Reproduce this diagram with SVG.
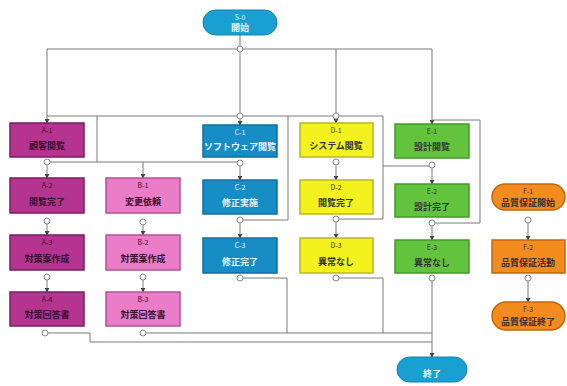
<svg xmlns="http://www.w3.org/2000/svg" width="567" height="386" viewBox="0 0 567 386">
<defs>
<marker id="ar" viewBox="0 0 6 6" refX="5" refY="3" markerWidth="5" markerHeight="5" orient="auto"><path d="M0,0 L6,3 L0,6 z" fill="#444"/></marker>
<style>
.bg{fill:#fff}
.ln{fill:none;stroke:#7a7a7a;stroke-width:1}
.j{fill:#fff;stroke:#888;stroke-width:1}
.pa{fill:#b5348f;stroke:#7b1c62;stroke-width:1.5}
.pb{fill:#ea7cc8;stroke:#b2529a;stroke-width:1.5}
.bl{fill:#178dc6;stroke:#0f6f9e;stroke-width:1.5}
.ye{fill:#f4f21e;stroke:#b9b624;stroke-width:1.5}
.gr{fill:#63c33c;stroke:#3f9a28;stroke-width:1.5}
.or{fill:#f38b1f;stroke:#c2650f;stroke-width:1.5}
.te{fill:#1a9fd2;stroke:#1483b0;stroke-width:1}
text{font-family:"Noto Sans CJK JP","Noto Sans",sans-serif;text-anchor:middle}
.c{font-size:7px}
.l{font-size:9px;font-weight:bold}
.dk{fill:#3a1030}
.wt{fill:#e8f6ff}
.bk{fill:#333}
</style>
</defs>
<rect class="bg" width="567" height="386"/>
<g id="connectors">
<path class="ln" d="M240,35 V46"/>
<path class="ln" d="M47,49 H432"/>
<path class="ln" d="M47,49 V116"/>
<path class="ln" d="M240,52 V113"/>
<path class="ln" d="M336,49 V113"/>
<path class="ln" d="M432,49 V124" marker-end="url(#ar)"/>
<path class="ln" d="M47,116 H383"/>
<path class="ln" d="M47,116 V123" marker-end="url(#ar)"/>
<path class="ln" d="M240,119 V125" marker-end="url(#ar)"/>
<path class="ln" d="M336,119 V123" marker-end="url(#ar)"/>
<path class="ln" d="M97,116 V162"/>
<path class="ln" d="M50,162 H237"/>
<path class="ln" d="M143,162 V178" marker-end="url(#ar)"/>
<path class="ln" d="M47,165 V178" marker-end="url(#ar)"/>
<path class="ln" d="M47,224 V235" marker-end="url(#ar)"/>
<path class="ln" d="M47,280 V292" marker-end="url(#ar)"/>
<path class="ln" d="M143,225 V235" marker-end="url(#ar)"/>
<path class="ln" d="M143,280 V292" marker-end="url(#ar)"/>
<path class="ln" d="M240,166 V180" marker-end="url(#ar)"/>
<path class="ln" d="M240,223 V238" marker-end="url(#ar)"/>
<path class="ln" d="M243,220 H288 V116"/>
<path class="ln" d="M336,165 V180" marker-end="url(#ar)"/>
<path class="ln" d="M336,222 V238" marker-end="url(#ar)"/>
<path class="ln" d="M339,219 H383 V116"/>
<path class="ln" d="M383,166 H429"/>
<path class="ln" d="M432,168 V184" marker-end="url(#ar)"/>
<path class="ln" d="M432,226 V240" marker-end="url(#ar)"/>
<path class="ln" d="M435,223 H480 V120 H432"/>
<path class="ln" d="M48,333 H90 V342 H432"/>
<path class="ln" d="M146,333 H432"/>
<path class="ln" d="M243,278 H287 V333"/>
<path class="ln" d="M339,278 H383 V333"/>
<path class="ln" d="M432,281 V357" marker-end="url(#ar)"/>
<path class="ln" d="M528,223 V240" marker-end="url(#ar)"/>
<path class="ln" d="M528,281 V302" marker-end="url(#ar)"/>
<circle class="j" cx="240" cy="49" r="3"/>
<circle class="j" cx="240" cy="116" r="3"/>
<circle class="j" cx="336" cy="116" r="3"/>
<circle class="j" cx="47" cy="162" r="3"/>
<circle class="j" cx="240" cy="163" r="3"/>
<circle class="j" cx="336" cy="162" r="3"/>
<circle class="j" cx="432" cy="165" r="3"/>
<circle class="j" cx="47" cy="221" r="3"/>
<circle class="j" cx="143" cy="222" r="3"/>
<circle class="j" cx="240" cy="220" r="3"/>
<circle class="j" cx="336" cy="219" r="3"/>
<circle class="j" cx="432" cy="223" r="3"/>
<circle class="j" cx="47" cy="277" r="3"/>
<circle class="j" cx="143" cy="277" r="3"/>
<circle class="j" cx="240" cy="278" r="3"/>
<circle class="j" cx="336" cy="278" r="3"/>
<circle class="j" cx="432" cy="278" r="3"/>
<circle class="j" cx="45" cy="333" r="3"/>
<circle class="j" cx="143" cy="333" r="3"/>
<circle class="j" cx="528" cy="220" r="3"/>
<circle class="j" cx="528" cy="278" r="3"/>
</g>
<g id="start"><rect class="te" x="203" y="10" width="74" height="25" rx="12.5"/><text class="c wt" x="240" y="20">S-0</text><text class="l wt" x="240" y="31">開始</text></g>
<g id="end"><rect class="te" x="397" y="357" width="70" height="25" rx="12.5"/><text class="l wt" x="432" y="377">終了</text></g>
<g id="A1"><rect class="pa" x="10" y="123" width="74" height="34"/><text class="c dk" x="47" y="133">A-1</text><text class="l dk" x="47" y="149">顧客閲覧</text></g>
<g id="A2"><rect class="pa" x="10" y="178" width="74" height="35"/><text class="c dk" x="47" y="188">A-2</text><text class="l dk" x="47" y="205">閲覧完了</text></g>
<g id="A3"><rect class="pa" x="10" y="235" width="74" height="35"/><text class="c dk" x="47" y="245">A-3</text><text class="l dk" x="47" y="262">対策案作成</text></g>
<g id="A4"><rect class="pa" x="10" y="292" width="74" height="34"/><text class="c dk" x="47" y="302">A-4</text><text class="l dk" x="47" y="318">対策回答書</text></g>
<g id="B1"><rect class="pb" x="106" y="178" width="74" height="35"/><text class="c dk" x="143" y="188">B-1</text><text class="l dk" x="143" y="205">変更依頼</text></g>
<g id="B2"><rect class="pb" x="106" y="235" width="74" height="35"/><text class="c dk" x="143" y="245">B-2</text><text class="l dk" x="143" y="262">対策案作成</text></g>
<g id="B3"><rect class="pb" x="106" y="292" width="74" height="34"/><text class="c dk" x="143" y="302">B-3</text><text class="l dk" x="143" y="318">対策回答書</text></g>
<g id="C1"><rect class="bl" x="203" y="125" width="74" height="32"/><text class="c wt" x="240" y="135">C-1</text><text class="l wt" x="240" y="150">ソフトウェア閲覧</text></g>
<g id="C2"><rect class="bl" x="203" y="180" width="74" height="34"/><text class="c wt" x="240" y="190">C-2</text><text class="l wt" x="240" y="206">修正実施</text></g>
<g id="C3"><rect class="bl" x="203" y="238" width="74" height="35"/><text class="c wt" x="240" y="248">C-3</text><text class="l wt" x="240" y="265">修正完了</text></g>
<g id="D1"><rect class="ye" x="300" y="123" width="73" height="34"/><text class="c bk" x="336" y="133">D-1</text><text class="l bk" x="336" y="149">システム閲覧</text></g>
<g id="D2"><rect class="ye" x="300" y="180" width="73" height="34"/><text class="c bk" x="336" y="190">D-2</text><text class="l bk" x="336" y="206">閲覧完了</text></g>
<g id="D3"><rect class="ye" x="300" y="238" width="73" height="35"/><text class="c bk" x="336" y="248">D-3</text><text class="l bk" x="336" y="265">異常なし</text></g>
<g id="E1"><rect class="gr" x="395" y="124" width="74" height="34"/><text class="c bk" x="432" y="134">E-1</text><text class="l bk" x="432" y="150">設計閲覧</text></g>
<g id="E2"><rect class="gr" x="395" y="184" width="74" height="33"/><text class="c bk" x="432" y="194">E-2</text><text class="l bk" x="432" y="210">設計完了</text></g>
<g id="E3"><rect class="gr" x="395" y="240" width="74" height="33"/><text class="c bk" x="432" y="250">E-3</text><text class="l bk" x="432" y="266">異常なし</text></g>
<g id="F1"><rect class="or" x="492" y="184" width="73" height="26" rx="13"/><text class="c bk" x="528" y="194">F-1</text><text class="l bk" x="528" y="206">品質保証開始</text></g>
<g id="F2"><rect class="or" x="492" y="240" width="73" height="33"/><text class="c bk" x="528" y="250">F-2</text><text class="l bk" x="528" y="266">品質保証活動</text></g>
<g id="F3"><rect class="or" x="492" y="302" width="73" height="28" rx="14"/><text class="c bk" x="528" y="312">F-3</text><text class="l bk" x="528" y="325">品質保証終了</text></g>
</svg>
